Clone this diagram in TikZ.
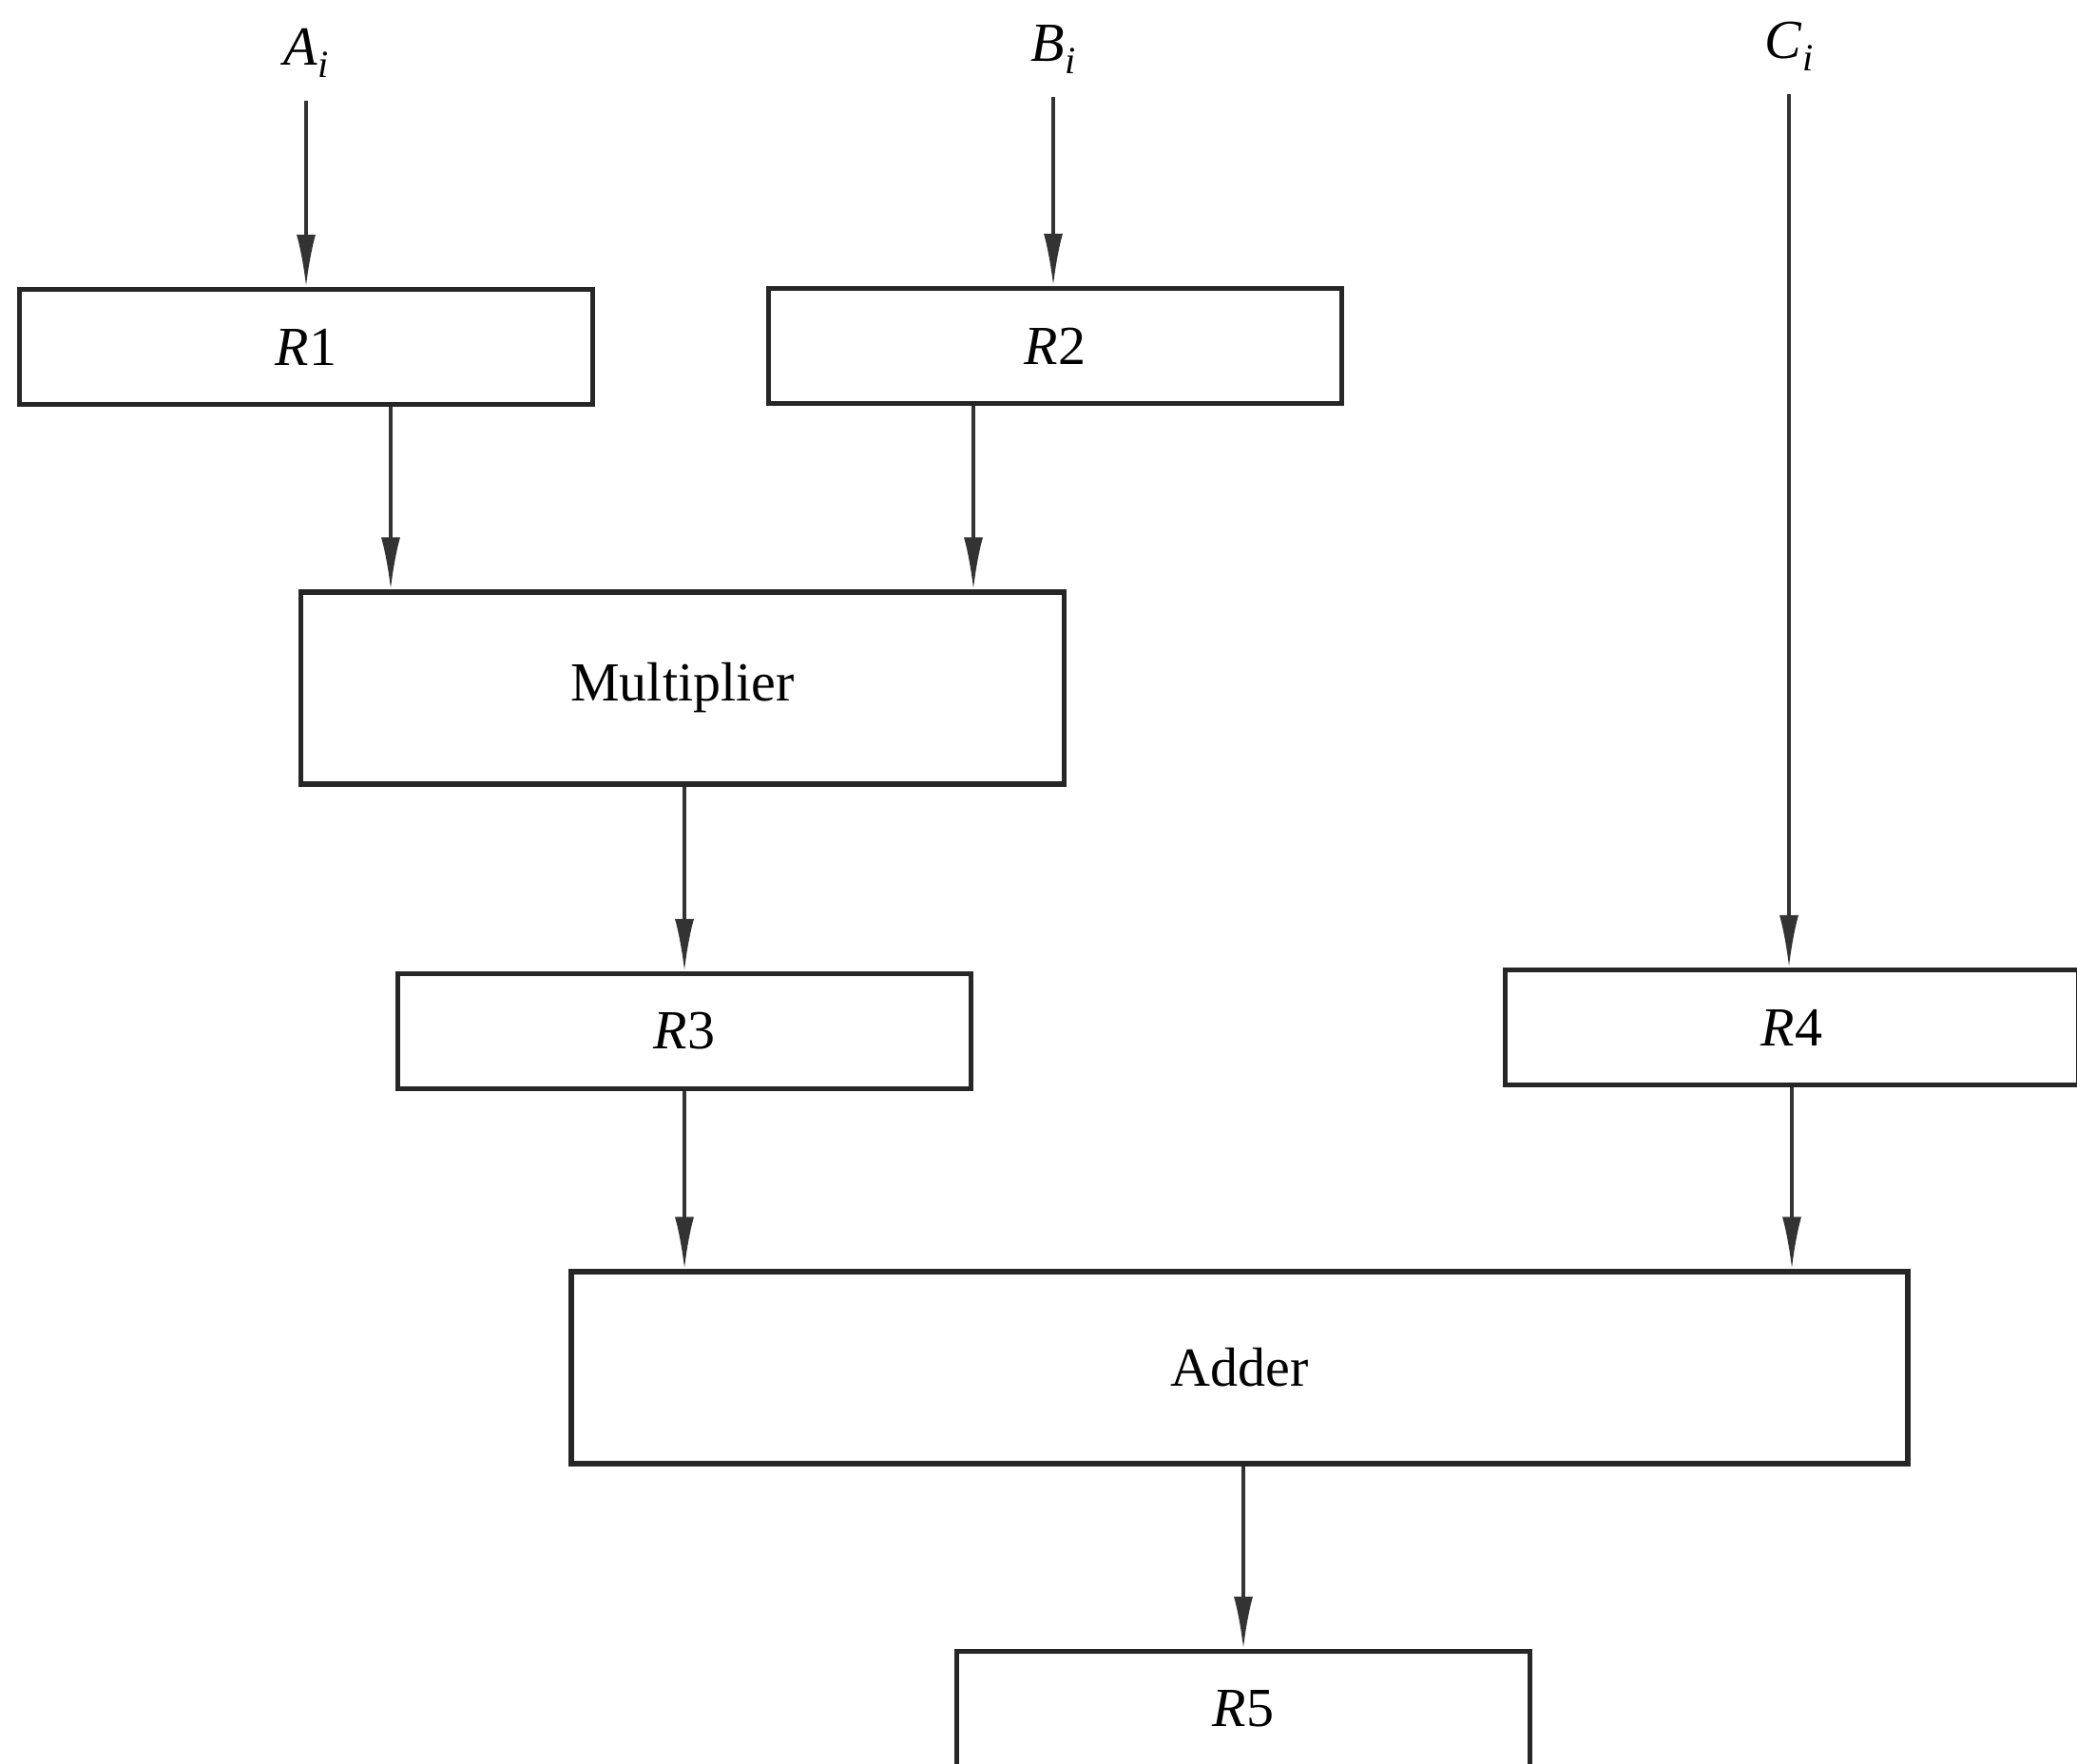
\documentclass[tikz,border=0pt]{standalone}
\usepackage{fontspec}
\setmainfont{Liberation Serif}
\usepackage{tikz}
\usetikzlibrary{arrows.meta, positioning, calc}

\tikzset{
  regbox/.style={rectangle, draw=black!85, line width=1.5pt, fill=white,
    minimum width=6.03cm, minimum height=1.21cm, inner sep=0pt},
  unitbox/.style={regbox, minimum height=2.02cm},
  flow/.style={draw=black!80, line width=1pt,
    -{Latex[length=5.5mm, width=2mm]}},
  inlabel/.style={inner sep=1pt}
}

\begin{document}
\begin{tikzpicture}[font=\fontsize{16.5}{20}\selectfont]
  \useasboundingbox (0,0) rectangle (21.85,-18.55);

  % inputs
  \node[inlabel] (ai) at (3.22,-0.56) {\textit{A}\raisebox{-0.5ex}{\fontsize{11.5}{13}\selectfont\textit{i}}};
  \node[inlabel] (bi) at (11.08,-0.52) {\textit{B}\raisebox{-0.5ex}{\fontsize{11.5}{13}\selectfont\textit{i}}};
  \node[inlabel] (ci) at (18.82,-0.49) {\textit{C}\raisebox{-0.5ex}{\fontsize{11.5}{13}\selectfont\textit{i}}};

  % registers and units
  \node[regbox] (r1) at (3.22,-3.65) {\textit{R}1};
  \node[regbox] (r2) at (11.10,-3.64) {\textit{R}2};
  \node[unitbox, minimum width=8.03cm] (mult) at (7.18,-7.24) {Multiplier};
  \node[regbox] (r3) at (7.20,-10.85) {\textit{R}3};
  \node[regbox] (r4) at (18.85,-10.81) {\textit{R}4};
  \node[unitbox, minimum width=14.06cm] (adder) at (13.04,-14.39) {Adder};
  \node[regbox] (r5) at (13.08,-17.98) {\textit{R}5};

  % data flow
  \draw[flow] ([yshift=-2mm]ai.south) -- (ai.south |- r1.north);
  \draw[flow] ([yshift=-2mm]bi.south) -- (bi.south |- r2.north);
  \draw[flow] ([yshift=-2mm]ci.south) -- (ci.south |- r4.north);
  \draw[flow] ($(r1.south)+(0.89,0)$) coordinate (m1) -- (m1 |- mult.north);
  \draw[flow] ($(r2.south)+(-0.86,0)$) coordinate (m2) -- (m2 |- mult.north);
  \draw[flow] (r3.north |- mult.south) -- (r3.north);
  \draw[flow] (r3.south) -- (r3.south |- adder.north);
  \draw[flow] (r4.south) -- (r4.south |- adder.north);
  \draw[flow] (r5.north |- adder.south) -- (r5.north);
\end{tikzpicture}
\end{document}
